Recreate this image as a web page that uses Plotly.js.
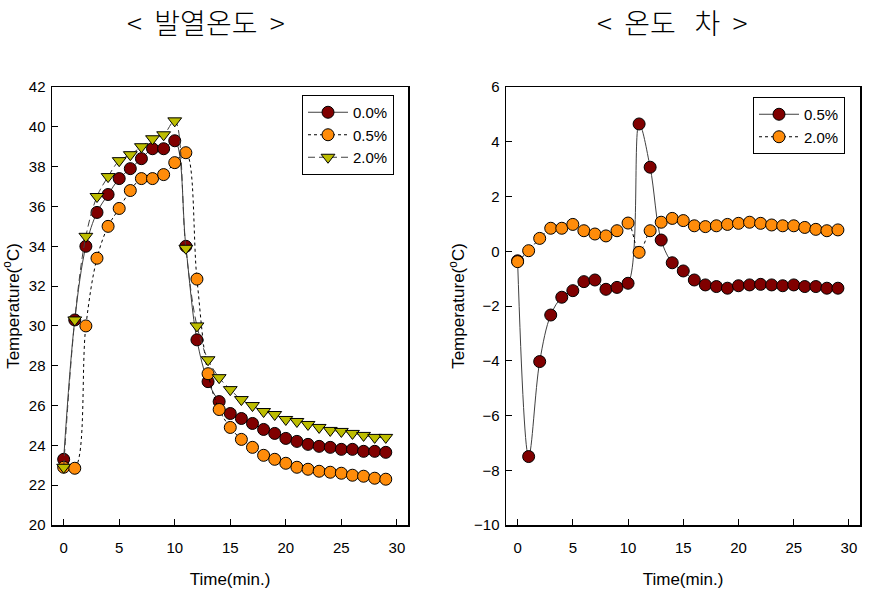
<!DOCTYPE html>
<html>
<head>
<meta charset="utf-8">
<script src="https://cdn.plot.ly/plotly-3.0.1.min.js"></script>
<style>html,body{margin:0;padding:0;background:#fff;}#chart{width:886px;height:607px;}</style>
</head>
<body>
<div id="chart"></div>
<script>
// ---- data ----
var time = [0,1,2,3,4,5,6,7,8,9,10,11,12,13,14,15,16,17,18,19,20,21,22,23,24,25,26,27,28,29];

var heat00 = [23.3,30.3,34.0,35.7,36.6,37.4,37.9,38.4,38.9,38.9,39.3,34.0,29.3,27.2,26.2,25.6,25.35,25.1,24.8,24.6,24.35,24.2,24.05,23.95,23.9,23.8,23.8,23.7,23.7,23.65];
var heat05 = [22.9,22.85,30.0,33.4,35.0,35.9,36.8,37.4,37.4,37.6,38.2,38.7,32.35,27.6,25.8,24.9,24.3,23.9,23.5,23.3,23.1,22.9,22.8,22.7,22.65,22.6,22.5,22.45,22.35,22.3];
var heat20 = [22.9,30.3,34.5,36.5,37.5,38.3,38.6,39.0,39.4,39.6,40.3,33.9,30.0,28.3,27.4,26.8,26.3,26.0,25.7,25.55,25.3,25.2,25.05,24.9,24.75,24.7,24.6,24.5,24.4,24.4];

var diff05 = [-0.35,-7.5,-4.03,-2.33,-1.68,-1.44,-1.11,-1.05,-1.39,-1.32,-1.17,4.65,3.07,0.41,-0.42,-0.72,-1.05,-1.23,-1.29,-1.35,-1.26,-1.23,-1.21,-1.23,-1.26,-1.23,-1.29,-1.29,-1.35,-1.35];
var diff20 = [-0.38,0.02,0.47,0.84,0.84,0.98,0.75,0.63,0.56,0.75,1.03,-0.04,0.75,1.06,1.2,1.12,0.93,0.9,0.93,0.98,1.02,1.06,1.02,0.96,0.93,0.93,0.87,0.8,0.75,0.78];

var leftNames = ['0.0%','0.5%','2.0%'];
var rightNames = ['0.5%','2.0%'];
var xTicks = [0,5,10,15,20,25,30];
var leftYTicks = [20,22,24,26,28,30,32,34,36,38,40,42];
var rightYTicks = [-10,-8,-6,-4,-2,0,2,4,6];
var titles = ['&lt;&nbsp; 발열온도 &nbsp;&gt;','&lt;&nbsp; 온도&nbsp;&nbsp; 차 &nbsp;&gt;'];

// ---- style ----
var RED = '#800000', ORANGE = '#FF8C0A', GREEN = '#BDBD00';
var mk = function(color, symbol){ return {color: color, size: 12, symbol: symbol, line: {color: '#000', width: 1}}; };

var traces = [
  {x: time, y: heat00, name: leftNames[0], type: 'scatter', mode: 'lines+markers', xaxis: 'x', yaxis: 'y', legend: 'legend',
   line: {color: '#404040', width: 1, shape: 'spline', smoothing: 1}, marker: mk(RED, 'circle')},
  {x: time, y: heat05, name: leftNames[1], type: 'scatter', mode: 'lines+markers', xaxis: 'x', yaxis: 'y', legend: 'legend',
   line: {color: '#000', width: 1, dash: 'dot', shape: 'spline', smoothing: 1}, marker: mk(ORANGE, 'circle')},
  {x: time, y: heat20, name: leftNames[2], type: 'scatter', mode: 'lines+markers', xaxis: 'x', yaxis: 'y', legend: 'legend',
   line: {color: '#404040', width: 1, dash: '7px,4px', shape: 'spline', smoothing: 1}, marker: mk(GREEN, 'triangle-down')},
  {x: time, y: diff05, name: rightNames[0], type: 'scatter', mode: 'lines+markers', xaxis: 'x2', yaxis: 'y2', legend: 'legend2',
   line: {color: '#404040', width: 1, shape: 'spline', smoothing: 1}, marker: mk(RED, 'circle')},
  {x: time, y: diff20, name: rightNames[1], type: 'scatter', mode: 'lines+markers', xaxis: 'x2', yaxis: 'y2', legend: 'legend2',
   line: {color: '#000', width: 1, dash: 'dot', shape: 'spline', smoothing: 1}, marker: mk(ORANGE, 'circle')}
];

var W = 886, H = 607;
var FONT = 'Liberation Sans, Arial, sans-serif';
var xAxisBase = {
  range: [-1.05, 31], tickvals: xTicks, ticks: 'inside', ticklen: 6, tickwidth: 1, tickcolor: '#000',
  showline: true, linecolor: '#000', linewidth: 1.5, mirror: true, showgrid: false, zeroline: false,
  ticklabelstandoff: 8,
  tickfont: {family: FONT, size: 15, color: '#000'},
  title: {text: 'Time(min.)', font: {family: FONT, size: 17, color: '#000'}, standoff: 18}
};
var yAxisBase = {
  ticks: 'inside', ticklen: 6, tickwidth: 1, tickcolor: '#000',
  showline: true, linecolor: '#000', linewidth: 1.5, mirror: true, showgrid: false, zeroline: false,
  ticklabelstandoff: 2,
  tickfont: {family: FONT, size: 15, color: '#000'},
  title: {text: 'Temperature(<sup>o</sup>C)', font: {family: FONT, size: 17, color: '#000'}, standoff: 5}
};

var layout = {
  width: W, height: H,
  margin: {l: 0, r: 0, t: 0, b: 0},
  paper_bgcolor: '#fff', plot_bgcolor: '#fff',
  xaxis: Object.assign({}, xAxisBase, {domain: [52/W, 408/W], anchor: 'y'}),
  yaxis: Object.assign({}, yAxisBase, {domain: [1-525/H, 1-87/H], range: [20, 42], tickvals: leftYTicks, anchor: 'x'}),
  xaxis2: Object.assign({}, xAxisBase, {domain: [506/W, 860/W], anchor: 'y2'}),
  yaxis2: Object.assign({}, yAxisBase, {domain: [1-525/H, 1-87/H], range: [-10, 6], tickvals: rightYTicks, anchor: 'x2'}),
  legend: {x: 302/W, y: 1-95/H, xanchor: 'left', yanchor: 'top', bgcolor: '#fff', bordercolor: '#000', borderwidth: 1,
           font: {family: FONT, size: 15, color: '#000'}, tracegroupgap: 0, itemwidth: 40},
  legend2: {x: 753/W, y: 1-97/H, xanchor: 'left', yanchor: 'top', bgcolor: '#fff', bordercolor: '#000', borderwidth: 1,
           font: {family: FONT, size: 15, color: '#000'}, tracegroupgap: 0, itemwidth: 40},
  showlegend: true,
  annotations: [
    {text: titles[0], xref: 'paper', yref: 'paper', x: 206/W, y: 1-22/H, xanchor: 'center', yanchor: 'middle', showarrow: false,
     font: {family: 'Noto Sans CJK KR', size: 28, weight: 300, color: '#000'}},
    {text: titles[1], xref: 'paper', yref: 'paper', x: 672/W, y: 1-22/H, xanchor: 'center', yanchor: 'middle', showarrow: false,
     font: {family: 'Noto Sans CJK KR', size: 28, weight: 300, color: '#000'}}
  ]
};

Plotly.newPlot('chart', traces, layout, {displayModeBar: false, staticPlot: true});
</script>
</body>
</html>
